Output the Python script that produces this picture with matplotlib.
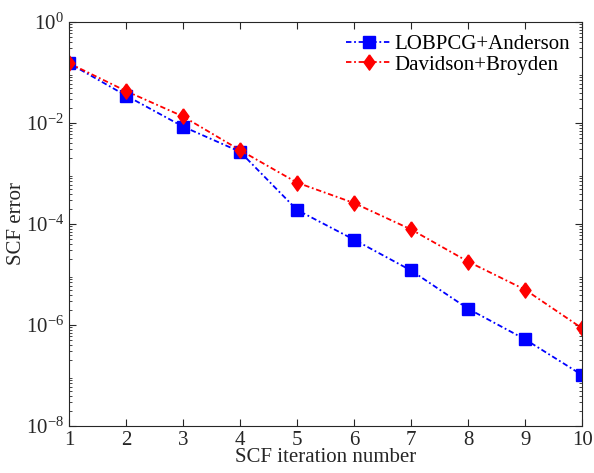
import matplotlib
matplotlib.use("Agg")
import matplotlib.pyplot as plt
from matplotlib.ticker import LogLocator, NullFormatter

plt.rcParams["font.family"] = ["Liberation Serif", "DejaVu Serif"]
plt.rcParams["mathtext.fontset"] = "custom"
plt.rcParams["mathtext.rm"] = "Liberation Serif"
plt.rcParams["mathtext.it"] = "Liberation Serif:italic"
plt.rcParams["axes.unicode_minus"] = False

# SCF iterations and errors
iters = [1, 2, 3, 4, 5, 6, 7, 8, 9, 10]
lobpcg_anderson = [0.153, 0.035, 0.0085, 0.0027, 1.9e-4, 4.9e-5, 1.2e-5, 2.1e-6, 5.2e-7, 1.02e-7]
davidson_broyden = [0.153, 0.043, 0.0135, 0.0029, 6.6e-4, 2.6e-4, 7.8e-5, 1.8e-5, 5.0e-6, 8.6e-7]

# MATLAB-like diamond (taller than wide)
diamond = [(0, 1), (0.72, 0), (0, -1), (-0.72, 0), (0, 1)]

fig = plt.figure(figsize=(5.94, 4.73), dpi=100)
ax = fig.add_axes([0.116, 0.0994, 0.864, 0.8541])

ax.semilogy(iters, lobpcg_anderson, color="blue", marker="s", markersize=8,
            linewidth=1.3, dashes=(3, 1.5, 1, 1.5), label="LOBPCG+Anderson")
ax.semilogy(iters, davidson_broyden, color="red", marker=diamond, markersize=11,
            linewidth=1.3, dashes=(3, 1.5, 1, 1.5), label="Davidson+Broyden")

ax.set_xlim(1, 10)
ax.set_ylim(1e-8, 1e0)
ax.set_xticks(iters)
ax.set_yticks([1e-8, 1e-6, 1e-4, 1e-2, 1e0])
ax.yaxis.set_minor_locator(LogLocator(base=10, subs=range(2, 10), numticks=20))
ax.yaxis.set_minor_formatter(NullFormatter())

ax.tick_params(which="both", direction="in", top=True, right=True, labelsize=15,
               color="#262626", labelcolor="#262626")
ax.tick_params(which="major", length=5)
ax.tick_params(which="minor", length=2.5)
for s in ax.spines.values():
    s.set_color("#262626")
    s.set_linewidth(0.8)

ax.set_xlabel("SCF iteration number", fontsize=15, labelpad=-1, color="#262626")
ax.set_ylabel("SCF error", fontsize=15, labelpad=0, color="#262626")

ax.legend(loc="upper right", frameon=False, fontsize=15, handlelength=2.2,
          handletextpad=0.1, labelspacing=0.05, borderaxespad=0.2)

fig.savefig("out.png", dpi=100)
